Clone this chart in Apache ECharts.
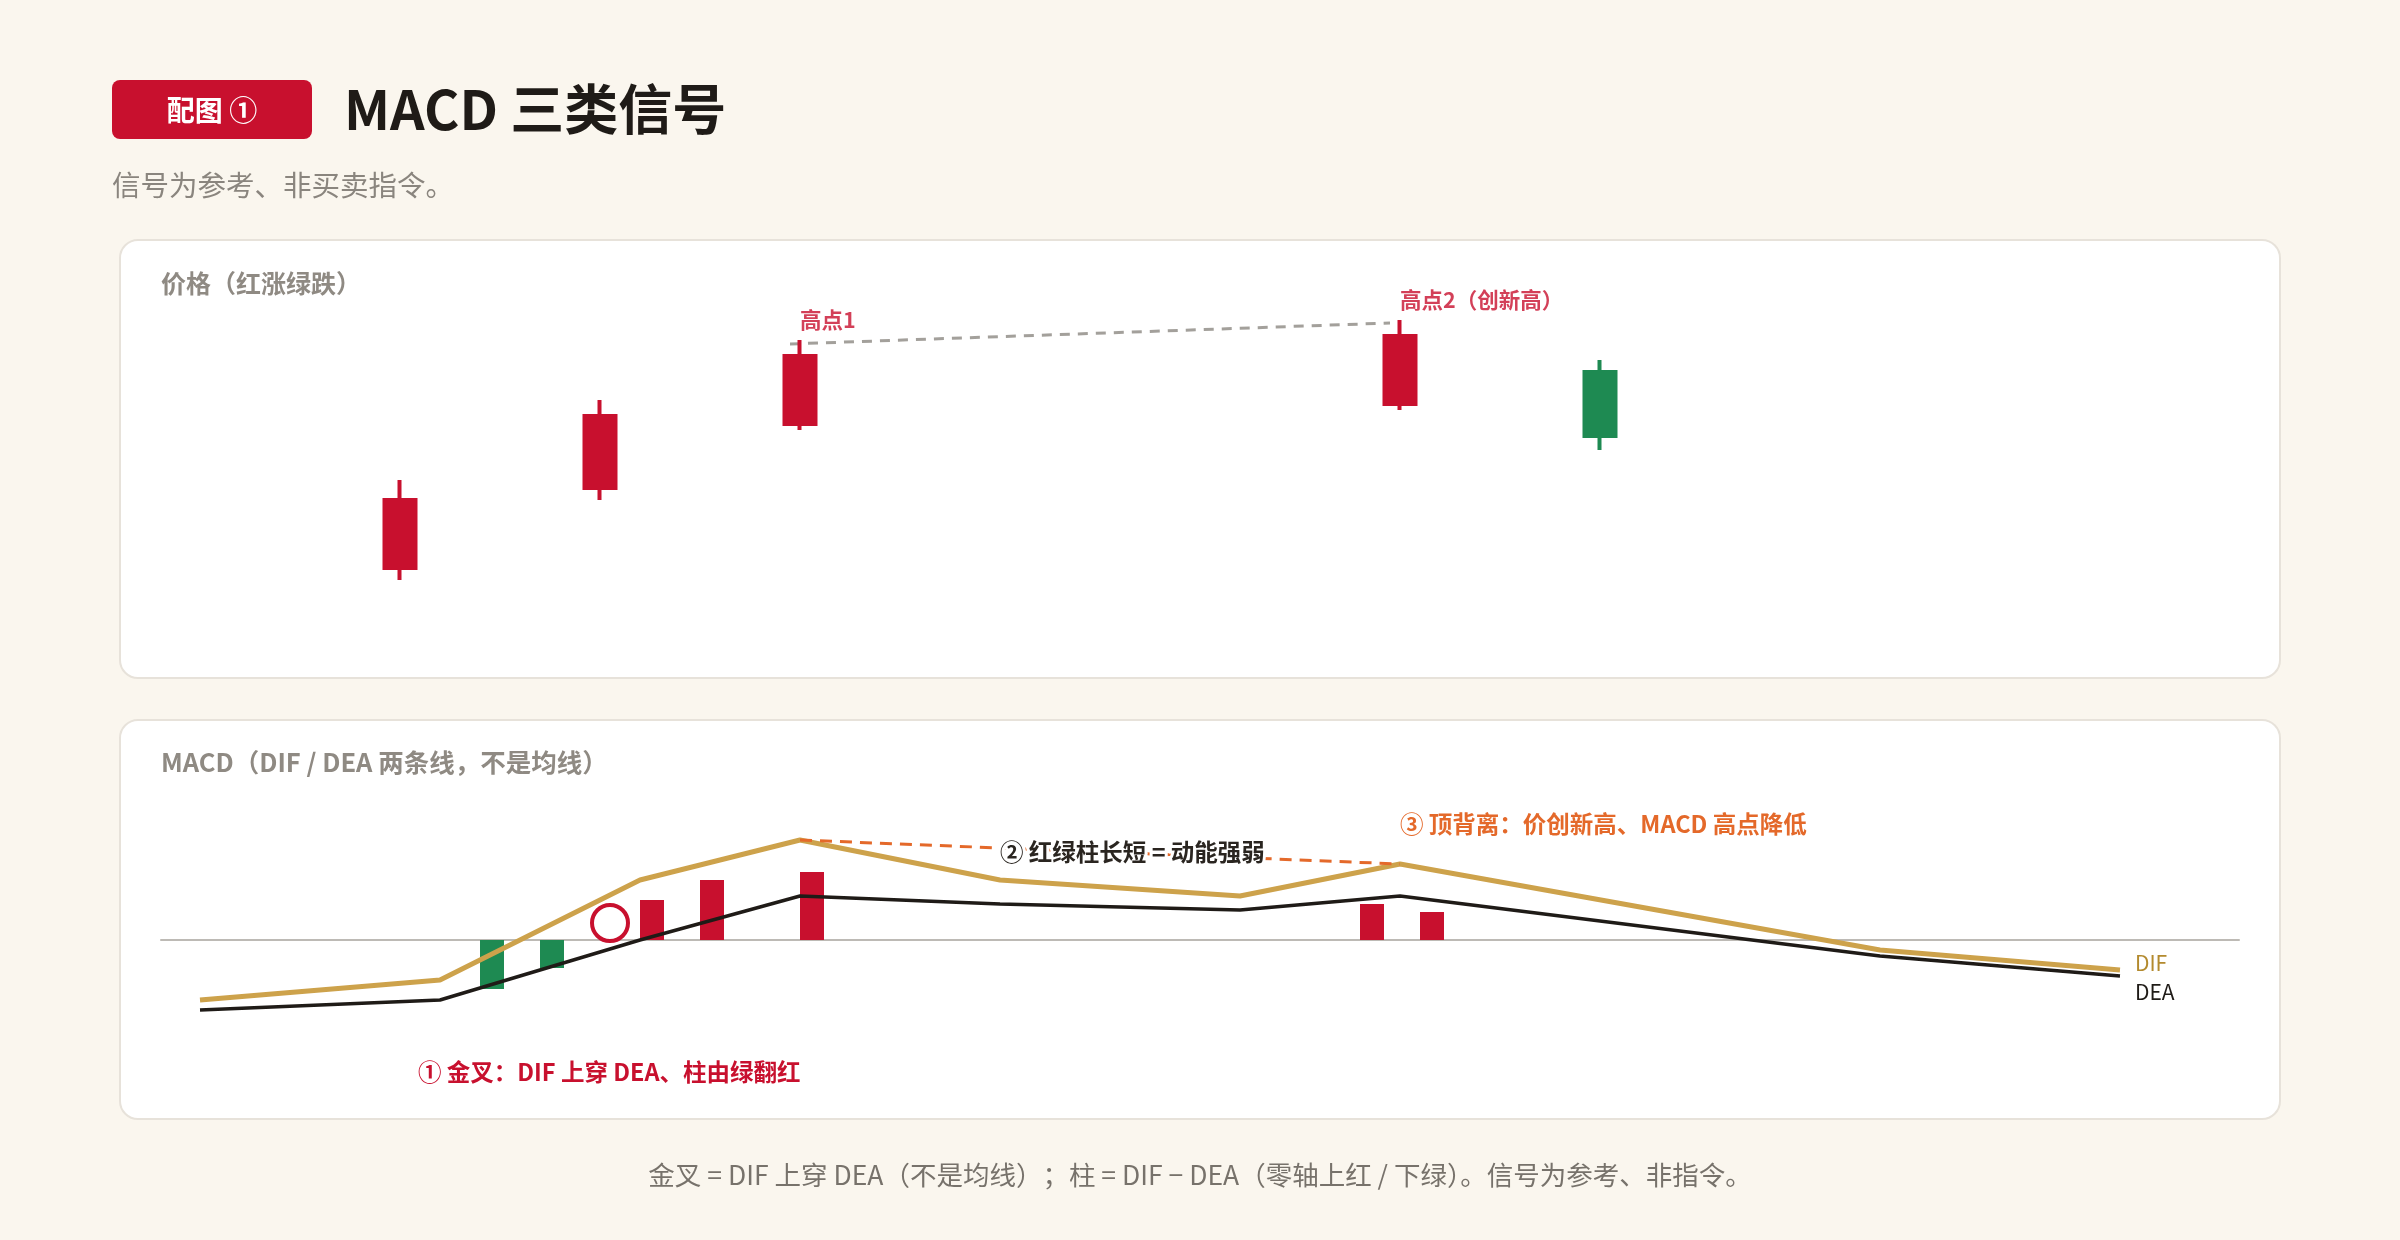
<!DOCTYPE html>
<html>
<head>
<meta charset="utf-8">
<style>
html,body{margin:0;padding:0;background:#faf6ee;}
#main{width:2400px;height:1240px;}
</style>
<script src="https://cdn.jsdelivr.net/npm/echarts@6/dist/echarts.min.js"></script>
</head>
<body>
<div id="main"></div>
<script>
var FONT = '"Noto Sans CJK SC", "Noto Sans", sans-serif';
var RED = '#c8102e', GREEN = '#1e8a52', GOLD = '#cda24b', ORANGE = '#e4692a', INK = '#1f1b17';

// 价格面板：K 线 [open, close, low, high]
var candleX = [200, 300, 400, 700, 800];
var candleOHLC = [
  [66, 100, 60, 110],
  [106, 142, 100, 150],
  [138, 172, 135, 180],
  [148, 182, 145, 190],
  [164, 132, 125, 170]
];
var highIdx = [2, 3];
var highNames = ['高点1', '高点2（创新高）'];
var highLinkX = [395, 695];
var highLinkY = [178, 188.5];

// MACD 面板
var lineX = [100, 220, 320, 400, 500, 620, 700, 940, 1060];
var dif = [-30, -20, 30, 50, 30, 22, 38, -5, -15];
var dea = [-35, -30, 0, 22, 18, 15, 22, -8, -18];
var histX = [246, 276, 326, 356, 406, 686, 716];
var hist = [-24.5, -14, 20, 30, 34, 18, 14];
var crossPoint = [305, 8.5];
var divergeIdx = [3, 6];

function pairs(xs, ys) {
  return xs.map(function (x, i) { return [x, ys[i]]; });
}

var chart = echarts.init(document.getElementById('main'));

var option = {
  backgroundColor: '#faf6ee',
  animation: false,
  textStyle: { fontFamily: FONT },
  grid: [
    { left: 161, right: 161, top: 250, height: 400 },
    { left: 161, right: 161, top: 780, height: 320 }
  ],
  xAxis: [
    { type: 'value', gridIndex: 0, min: 80.5, max: 1119.5, show: false },
    {
      type: 'value', gridIndex: 1, min: 80.5, max: 1119.5,
      axisLabel: { show: false }, axisTick: { show: false }, splitLine: { show: false },
      axisLine: { show: true, onZero: true, lineStyle: { color: '#bdbab5', width: 2 } }
    }
  ],
  yAxis: [
    { type: 'value', gridIndex: 0, min: 25, max: 225, show: false },
    { type: 'value', gridIndex: 1, min: -80, max: 80, show: false, splitLine: { show: false } }
  ],
  series: [
    {
      type: 'candlestick', xAxisIndex: 0, yAxisIndex: 0,
      data: candleX.map(function (x, i) { return [x].concat(candleOHLC[i]); }),
      encode: { x: 0, y: [1, 2, 3, 4] },
      barWidth: 32,
      itemStyle: { color: RED, color0: GREEN, borderColor: RED, borderColor0: GREEN, borderWidth: 4 }
    },
    {
      type: 'line', xAxisIndex: 0, yAxisIndex: 0, symbol: 'none', z: 1,
      data: pairs(highLinkX, highLinkY),
      lineStyle: { color: '#a3a09b', width: 3, type: [10, 8] }
    },
    {
      type: 'scatter', xAxisIndex: 0, yAxisIndex: 0, symbolSize: 0, clip: false,
      data: highIdx.map(function (i) { return [candleX[i], candleOHLC[i][3]]; }),
      label: {
        show: true, position: [0, -20], align: 'left', verticalAlign: 'middle',
        color: RED, fontSize: 21.5, fontWeight: 'bold',
        formatter: function (p) { return highNames[p.dataIndex]; }
      }
    },
    {
      type: 'bar', xAxisIndex: 1, yAxisIndex: 1, barWidth: 24, z: 1,
      data: pairs(histX, hist),
      itemStyle: { color: function (p) { return p.value[1] >= 0 ? RED : GREEN; } }
    },
    {
      name: 'DIF', type: 'line', xAxisIndex: 1, yAxisIndex: 1, symbol: 'none', z: 3,
      data: pairs(lineX, dif),
      lineStyle: { color: GOLD, width: 5 },
      endLabel: { show: true, formatter: 'DIF', color: '#b38a2e', fontSize: 21, distance: 15, offset: [0, -7] }
    },
    {
      name: 'DEA', type: 'line', xAxisIndex: 1, yAxisIndex: 1, symbol: 'none', z: 3,
      data: pairs(lineX, dea),
      lineStyle: { color: INK, width: 3.5 },
      endLabel: { show: true, formatter: 'DEA', color: INK, fontSize: 21, distance: 15, offset: [0, 16] }
    },
    {
      type: 'line', xAxisIndex: 1, yAxisIndex: 1, symbol: 'none', z: 4,
      data: divergeIdx.map(function (i) { return [lineX[i], dif[i]]; }),
      lineStyle: { color: ORANGE, width: 3, type: [12, 8] }
    },
    {
      type: 'scatter', xAxisIndex: 1, yAxisIndex: 1, symbol: 'circle', symbolSize: 36, z: 5,
      data: [crossPoint],
      itemStyle: { color: 'rgba(0,0,0,0)', borderColor: RED, borderWidth: 4, opacity: 1 }
    }
  ],
  graphic: {
    elements: [
      { type: 'rect', z: -10, shape: { x: 120, y: 240, width: 2160, height: 438, r: 18 },
        style: { fill: '#ffffff', stroke: '#e7e2da', lineWidth: 2 } },
      { type: 'rect', z: -10, shape: { x: 120, y: 720, width: 2160, height: 399, r: 18 },
        style: { fill: '#ffffff', stroke: '#e7e2da', lineWidth: 2 } },
      { type: 'rect', z: 10, shape: { x: 112, y: 80, width: 200, height: 59, r: 8 },
        style: { fill: RED } },
      { type: 'text', z: 11, x: 212, y: 110,
        style: { text: '配图 ①', fill: '#fff', fontSize: 28, fontWeight: 'bold', fontFamily: FONT, align: 'center', verticalAlign: 'middle' } },
      { type: 'text', z: 11, x: 344, y: 109,
        style: { text: 'MACD 三类信号', fill: INK, fontSize: 54, fontWeight: 'bold', fontFamily: FONT, verticalAlign: 'middle' } },
      { type: 'text', z: 11, x: 112, y: 185,
        style: { text: '信号为参考、非买卖指令。', fill: '#8a857e', fontSize: 28.5, fontFamily: FONT, verticalAlign: 'middle' } },
      { type: 'text', z: 11, x: 161, y: 283,
        style: { text: '价格（红涨绿跌）', fill: '#8f8a83', fontSize: 25, fontWeight: 'bold', fontFamily: FONT, verticalAlign: 'middle' } },
      { type: 'text', z: 11, x: 161, y: 762,
        style: { text: 'MACD（DIF / DEA 两条线，不是均线）', fill: '#8f8a83', fontSize: 25.5, fontWeight: 'bold', fontFamily: FONT, verticalAlign: 'middle' } },
      { type: 'text', z: 20, x: 418, y: 1072,
        style: { text: '① 金叉：DIF 上穿 DEA、柱由绿翻红', fill: RED, fontSize: 23.5, fontWeight: 'bold', fontFamily: FONT, verticalAlign: 'middle' } },
      { type: 'text', z: 20, x: 1000, y: 852,
        style: { text: '② 红绿柱长短 = 动能强弱', fill: '#2a2520', stroke: '#ffffff', lineWidth: 6, fontSize: 23.5, fontWeight: 'bold', fontFamily: FONT, verticalAlign: 'middle' } },
      { type: 'text', z: 20, x: 1400, y: 824,
        style: { text: '③ 顶背离：价创新高、MACD 高点降低', fill: ORANGE, fontSize: 23.5, fontWeight: 'bold', fontFamily: FONT, verticalAlign: 'middle' } },
      { type: 'text', z: 11, x: 1200, y: 1175,
        style: { text: '金叉 = DIF 上穿 DEA（不是均线）；柱 = DIF − DEA（零轴上红 / 下绿）。信号为参考、非指令。', fill: '#77726b', fontSize: 26.5, fontFamily: FONT, align: 'center', verticalAlign: 'middle' } }
    ]
  }
};

chart.setOption(option);
</script>
</body>
</html>
